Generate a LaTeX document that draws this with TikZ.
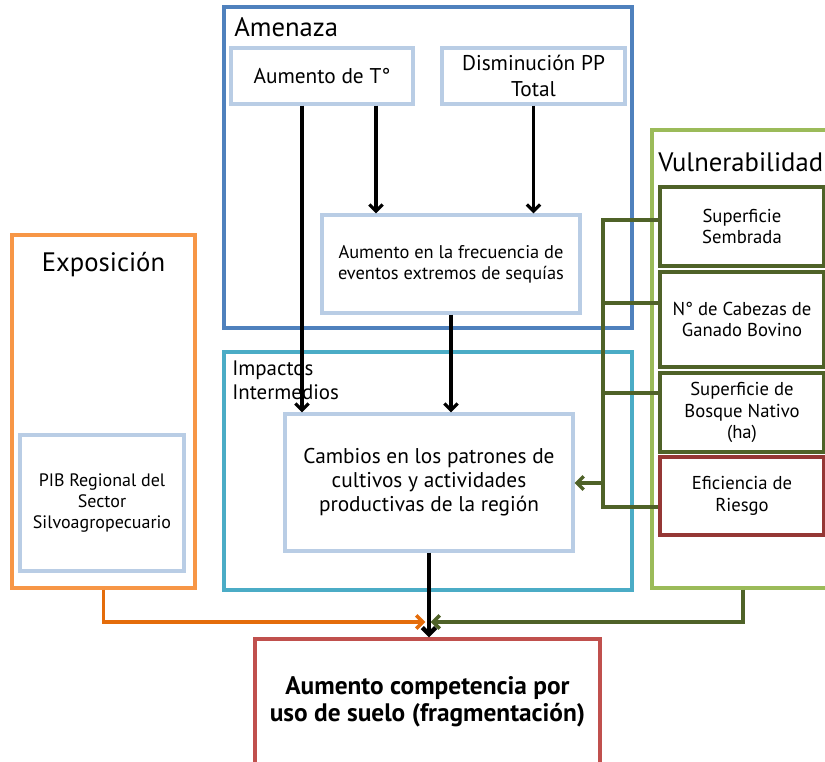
\documentclass[tikz,border=0pt]{standalone}
\usepackage{fontspec}
\setmainfont{PT Sans}
\usetikzlibrary{arrows.meta}

\definecolor{amenblue}{HTML}{4F81BD}
\definecolor{itemblue}{HTML}{B9CDE5}
\definecolor{impcyan}{HTML}{4BACC6}
\definecolor{expoorange}{HTML}{F79646}
\definecolor{dkorange}{HTML}{E46C0A}
\definecolor{vulngreen}{HTML}{9BBB59}
\definecolor{dkgreen}{HTML}{4F6228}
\definecolor{dkred}{HTML}{953735}
\definecolor{finred}{HTML}{C0504D}

\begin{document}
\begin{tikzpicture}[x=0.75pt,y=-0.75pt]
\tikzstyle{every node}=[inner sep=0pt,align=center,font=\fontsize{16}{19}\selectfont]
\tikzstyle{frame}=[draw,line width=2.3pt]
\tikzstyle{item}=[draw=itemblue,line width=2.3pt]
\tikzstyle{sub}=[draw,line width=2.3pt,minimum width=123pt,font=\fontsize{14}{16.3}\selectfont]
\tikzstyle{title}=[font=\fontsize{20}{24}\selectfont]
\tikzstyle{arr}=[line width=2.5pt,-{Straight Barb[length=5pt,width=10pt]}]
\tikzstyle{gline}=[dkgreen,line width=2.6pt]
\tikzstyle{grarr}=[gline,-{Straight Barb[length=5pt,width=10pt]}]
\tikzstyle{orarr}=[dkorange,line width=2.6pt,-{Straight Barb[length=5pt,width=10pt]}]
\useasboundingbox (0,0) rectangle (825,761);
\clip (0,0) rectangle (825,761);

\node[frame,draw=amenblue,minimum width=306pt,minimum height=240.75pt] (amenaza) at (428,167.5) {};
\node[title,anchor=base west] (amenazat) at (234,36) {Amenaza};
\node[item,minimum width=136.5pt,minimum height=42pt] (temp) at (322,76) {Aumento de T°};
\node[item,minimum width=137.25pt,minimum height=42pt] (precip) at (533.5,76) {Disminución PP\\Total};
\node[item,minimum width=193.5pt,minimum height=73.5pt,font=\fontsize{13.8}{16}\selectfont] (sequia) at (451,264) {Aumento en la frecuencia de\\eventos extremos de sequías};

\node[frame,draw=impcyan,minimum width=306pt,minimum height=178.5pt] (impactos) at (428,471) {};
\node[anchor=north west,align=left,font=\fontsize{15.7}{18}\selectfont] (impactost) at (232,361) {Impactos\\Intermedios};
\node[item,minimum width=216pt,minimum height=102.75pt,font=\fontsize{16}{18}\selectfont] (cambios) at (429,482.5) {Cambios en los patrones de\\cultivos y actividades\\productivas de la región};

\node[frame,draw=expoorange,minimum width=137.25pt,minimum height=264.75pt] (exposicion) at (103.5,411.5) {};
\node[title] (exposiciont) at (103.5,265) {Exposición};
\node[item,minimum width=123pt,minimum height=102pt,font=\fontsize{13.5}{16}\selectfont] (pib) at (102,503) {PIB Regional del\\Sector\\Silvoagropecuario};

\node[frame,draw=vulngreen,minimum width=133.5pt,minimum height=343.5pt] (vulnerabilidad) at (741,359) {};
\node[title,anchor=base west] (vulnerabilidadt) at (658,171) {Vulnerabilidad};
\node[sub,draw=dkgreen,minimum height=59.25pt] (sembrada) at (742,226.5) {Superficie\\Sembrada};
\node[sub,draw=dkgreen,minimum height=71.25pt] (bovino) at (742,319.5) {N° de Cabezas de\\Ganado Bovino};
\node[sub,draw=dkgreen,minimum height=59.25pt] (bosque) at (742,412.5) {Superficie de\\Bosque Nativo\\(ha)};
\node[sub,draw=dkred,minimum height=58.5pt] (riego) at (742,496) {Eficiencia de\\Riesgo};

\node[frame,draw=finred,minimum width=258.75pt,minimum height=94.5pt,font=\bfseries\fontsize{19}{20.5}\selectfont] (suelo) at (427.5,702) {Aumento competencia por\\uso de suelo (fragmentación)};

\coordinate (bus) at (603,0);
\coordinate (union) at (428,622);

\draw[arr] ([xshift=-15pt]temp.south) -- ([xshift=-15pt]temp.south |- cambios.north);
\draw[arr] ([xshift=40.5pt]temp.south) -- ([xshift=40.5pt]temp.south |- sequia.north);
\draw[arr] (precip.south) -- (precip.south |- sequia.north);
\draw[arr] (sequia.south) -- (sequia.south |- cambios.north);
\draw[arr,line width=3.4pt] (cambios.south) -- (cambios.south |- suelo.north);
\draw[orarr] (exposicion.south) |- ([xshift=-2pt]union);
\draw[grarr] ([xshift=1.5pt]vulnerabilidad.south) |- ([xshift=2pt]union);

\draw[gline] (sembrada.west |- 0,220) -| (bus |- 0,507) -- (riego.west |- 0,507);
\draw[gline] (bovino.west |- 0,303) -- (bus |- 0,303);
\draw[gline] (bosque.west |- 0,393) -- (bus |- 0,393);
\draw[grarr] (bus |- 0,483) -- (cambios.east |- 0,483);
\end{tikzpicture}
\end{document}
